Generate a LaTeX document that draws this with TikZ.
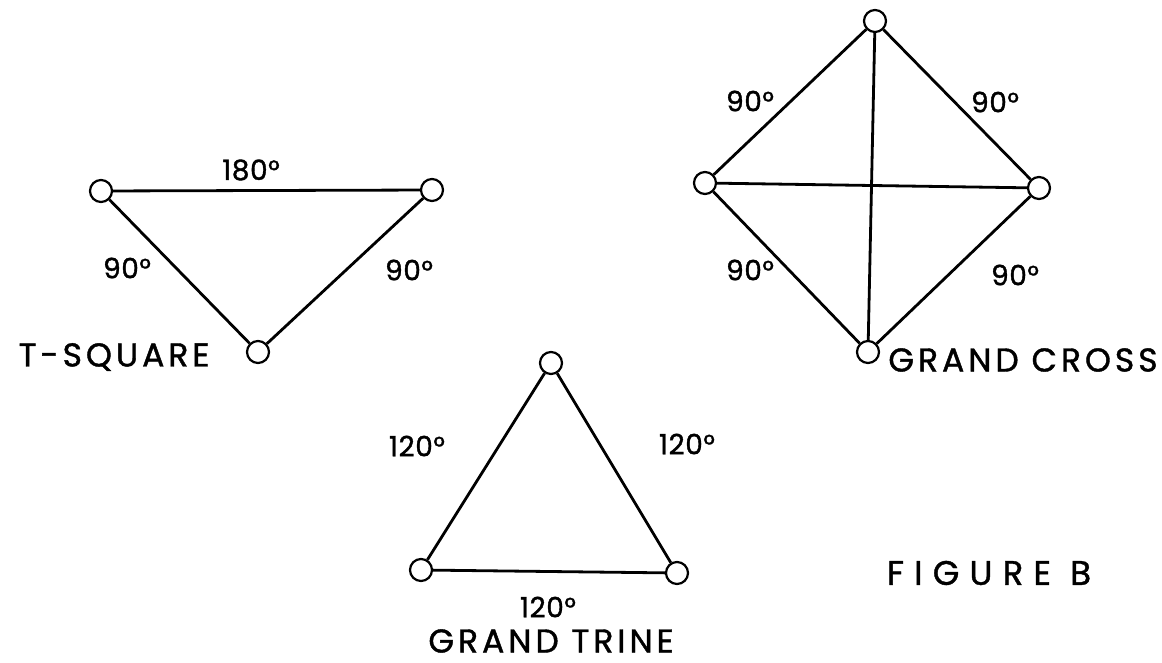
\documentclass[tikz,border=0pt]{standalone}
\usepackage{fontspec}
\setmainfont[LetterSpace=12, FakeBold=1.2]{Poppins}
\newfontfamily\degfont[LetterSpace=2, FakeBold=1.2]{Poppins}
\newfontfamily\widefont[LetterSpace=30, FakeBold=1.2]{Poppins}

\begin{document}
\begin{tikzpicture}[x=0.5pt, y=-0.5pt, line width=1.4pt,
    every node/.style={draw, circle, minimum size=11pt, inner sep=0pt, line width=1.1pt}]
    \useasboundingbox (0,0) rectangle (1162,663);
        % T-square
        \node (A) at (101,191) {};
        \node (B) at (432,190) {};
        \node (C) at (258,352) {};
        % Grand cross
        \node (D) at (875,21) {};
        \node (E) at (705,183) {};
        \node (F) at (1039,188) {};
        \node (G) at (868,352) {};
        % Grand trine
        \node (H) at (551,363) {};
        \node (I) at (421,570) {};
        \node (J) at (677,573) {};

        \begin{scope}[every node/.style={draw=none, font=\degfont\fontsize{14}{16}\selectfont}]
        \node (t1) at (251,170) {180°};
        \node (t2) at (127,268) {90°};
        \node (t3) at (409,270) {90°};
        \node (c1) at (750,101) {90°};
        \node (c2) at (995,102) {90°};
        \node (c3) at (750,270) {90°};
        \node (c4) at (1015,275) {90°};
        \node (g1) at (417,446) {120°};
        \node (g2) at (687,444) {120°};
        \node (g3) at (548,607) {120°};
        \end{scope}

        \begin{scope}[every node/.style={draw=none, inner sep=1pt, font=\fontsize{16.5}{18}\selectfont}]
        \node (tsq) at (114,357) {T-SQUARE};
        \node (gcr) at (1023,360) {GRAND CROSS};
        \node (gtr) at (551,641) {GRAND TRINE};
        \node[font=\widefont\fontsize{17}{18}\selectfont] (fig) at (989,573) {FIGURE B};
        \end{scope}

        \draw (A) -- (B);
        \draw (A) -- (C);
        \draw (B) -- (C);
        \draw (D) -- (E);
        \draw (D) -- (F);
        \draw (D) -- (G);
        \draw (E) -- (F);
        \draw (E) -- (G);
        \draw (F) -- (G);
        \draw (H) -- (I);
        \draw (H) -- (J);
        \draw (I) -- (J);
    \end{tikzpicture}
\end{document}
